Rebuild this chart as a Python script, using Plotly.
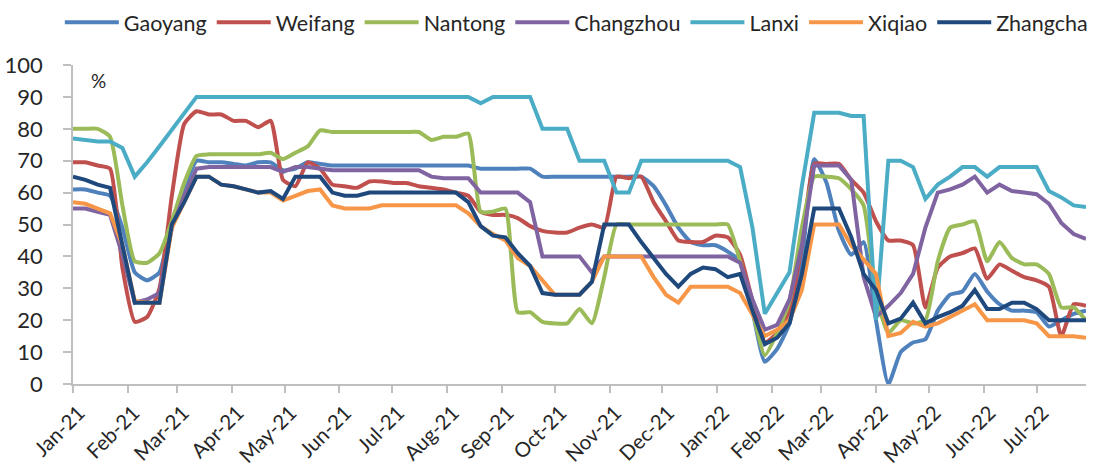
import pandas as pd
import plotly.graph_objects as go

START_DATE = "2021-01-01"   # weekly observations
N_WEEKS = 83
dates = pd.date_range(START_DATE, periods=N_WEEKS, freq="7D")

series_names = ["Gaoyang", "Weifang", "Nantong", "Changzhou", "Lanxi", "Xiqiao", "Zhangcha"]
series_colors = ["#4F81BD", "#C0504D", "#9BBB59", "#8064A2", "#4BACC6", "#F79646", "#1F497D"]

gaoyang = [61, 61, 60, 59, 49, 35, 32.5, 35, 51, 61,
           70, 69.5, 69.5, 69, 68.5, 69.5, 69.5, 67, 67.5, 69.5,
           69, 68.5, 68.5, 68.5, 68.5, 68.5, 68.5, 68.5, 68.5, 68.5,
           68.5, 68.5, 68.5, 67.5, 67.5, 67.5, 67.5, 67.5, 65, 65,
           65, 65, 65, 65, 65, 65, 65, 62, 56, 49,
           44.5, 43.5, 43.5, 41.5, 38.5, 23, 7, 11, 19, 38.5,
           70.5, 63, 48, 40.5, 44.5, 20, 0, 10, 13, 14,
           23, 28, 29, 34.5, 29, 25, 23, 23, 22.5, 18,
           20, 22, 23]
weifang = [69.5, 69.5, 68.5, 67.5, 36.5, 19.5, 21, 30, 59, 81.5,
           85.5, 84.5, 84.5, 82.5, 82.5, 80.5, 82.5, 64, 62, 69.5,
           67.5, 62.5, 62, 61.5, 63.5, 63.5, 63, 63, 62, 61.5,
           61, 60, 59, 54, 53, 53, 52, 49.5, 48, 47.5,
           47.5, 49, 50, 49, 65, 64.5, 65, 57, 51, 45,
           44.5, 44.5, 46.5, 46, 40.5, 26, 13, 16, 23, 43.5,
           69, 69, 69, 64, 60, 51, 45, 45, 43.5, 24,
           36.5, 40, 41, 42.5, 33, 37.5, 35.5, 33.5, 32.5, 30.5,
           15, 25, 24.5]
nantong = [80, 80, 80, 77.5, 56, 38.5, 38, 41, 51, 63,
           71.5, 72, 72, 72, 72, 72, 72.5, 70.5, 72.5, 74.5,
           79.5, 79, 79, 79, 79, 79, 79, 79, 79, 76.5,
           77.5, 77.5, 78.5, 54, 54, 55, 22.5, 22.5, 19.5, 19,
           19, 23.5, 19, 33.5, 50, 50, 50, 50, 50, 50,
           50, 50, 50, 50, 38.5, 23, 9, 16, 26, 49,
           65, 65, 64.5, 61, 56, 28, 16, 20, 19, 20,
           38.5, 49, 50, 51, 38.5, 44.5, 39.5, 37.5, 37.5, 34.5,
           24, 24, 20]
changzhou = [55, 55, 54, 53, 40.5, 25.5, 26.5, 28.5, 49, 59,
             67.5, 68, 68, 68, 68, 68, 68, 66.5, 68, 68,
             67.5, 67, 67, 67, 67, 67, 67, 67, 67, 65,
             64.5, 64.5, 64.5, 60, 60, 60, 60, 57, 40, 40,
             40, 40, 35, 40, 40, 40, 40, 40, 40, 40,
             40, 40, 40, 40, 38, 26.5, 17, 18.5, 26.5, 43.5,
             68.5, 68.5, 68.5, 64, 33.5, 21, 24.5, 28.5, 34.5, 49,
             60, 61, 62.5, 65, 60, 62.5, 60.5, 60, 59.5, 56.5,
             50.5, 47, 45.5]
lanxi = [77, 76.5, 76, 76, 74, 65, 69.5, 74.5, 79.5, 84.5,
         90, 90, 90, 90, 90, 90, 90, 90, 90, 90,
         90, 90, 90, 90, 90, 90, 90, 90, 90, 90,
         90, 90, 90, 88, 90, 90, 90, 90, 80, 80,
         80, 70, 70, 70, 60, 60, 70, 70, 70, 70,
         70, 70, 70, 70, 68, 49, 22, 28.5, 35, 62,
         85, 85, 85, 84, 84, 20, 70, 70, 68, 58,
         62.5, 65, 68, 68, 65, 68, 68, 68, 68, 60.5,
         58.5, 56, 55.5]
xiqiao = [57, 56.5, 55, 53.5, 43.5, 26, 25.5, 25.5, 49, 57,
          65, 65, 62.5, 62, 61, 60, 60, 57.5, 59, 60.5,
          61, 56, 55, 55, 55, 56, 56, 56, 56, 56,
          56, 56, 53.5, 49.5, 47, 45, 39.5, 37, 32.5, 28,
          28, 28, 32, 40, 40, 40, 40, 33.5, 28, 25.5,
          30.5, 30.5, 30.5, 30.5, 28.5, 22, 15, 17, 20, 29.5,
          50, 50, 50, 43.5, 39, 34.5, 15, 16, 19.5, 18,
          19, 21, 23, 25, 20, 20, 20, 20, 19, 15,
          15, 15, 14.5]
zhangcha = [65, 64, 62.5, 61.5, 43.5, 25.5, 25.5, 25.5, 50, 57,
            65, 65, 62.5, 62, 61, 60, 60.5, 58, 65, 65,
            65, 60, 59, 59, 60, 60, 60, 60, 60, 60,
            60, 60, 57, 49.5, 46.5, 46, 41, 37, 28.5, 28,
            28, 28, 32, 50, 50, 50, 44.5, 39.5, 34.5, 30.5,
            34.5, 36.5, 36, 33.5, 34.5, 23, 12.5, 14.5, 19, 34.5,
            55, 55, 55, 46, 34.5, 29.5, 19, 20.5, 25.5, 19,
            21, 22.5, 24.5, 29.5, 23.5, 23.5, 25.5, 25.5, 23.5, 20,
            20, 20, 20]

all_values = [gaoyang, weifang, nantong, changzhou, lanxi, xiqiao, zhangcha]
smoothed = {"Gaoyang", "Weifang", "Nantong"}

FONT = "Lato"
TEXT = "#262626"
AXIS = "#BFBFBF"

fig = go.Figure()
for name, color, vals in zip(series_names, series_colors, all_values):
    shape = "spline" if name in smoothed else "linear"
    fig.add_trace(go.Scatter(
        x=dates, y=vals, name=name, mode="lines",
        line=dict(color=color, width=4, shape=shape, smoothing=0.5),
    ))

fig.update_layout(
    width=1097, height=469,
    margin=dict(l=73, r=11, t=65, b=85, autoexpand=False),
    paper_bgcolor="white", plot_bgcolor="white",
    font=dict(family=FONT, size=21, color=TEXT),
    showlegend=True,
    legend=dict(orientation="h", x=-0.013, xanchor="left", y=1.134, yanchor="middle",
                font=dict(family=FONT, size=21.5, color=TEXT), itemwidth=54,
                bgcolor="rgba(0,0,0,0)", traceorder="normal", tracegroupgap=0),
    annotations=[dict(text="%", xref="paper", yref="paper", x=0.025, y=0.95,
                      showarrow=False, xanchor="center", yanchor="middle",
                      font=dict(family=FONT, size=19, color=TEXT))],
)
fig.update_xaxes(
    type="date", range=["2021-01-01", "2022-07-29"],
    tick0="2021-01-01", dtick="M1", tickformat="%b-%y", tickangle=-45,
    showline=True, linecolor=AXIS, linewidth=1.5,
    ticks="outside", ticklen=7, tickcolor=AXIS, tickwidth=1.5,
    showgrid=False, zeroline=False,
    ticklabelstandoff=0, ticklabelshift=6,
    tickfont=dict(family=FONT, size=20.5, color=TEXT),
)
fig.update_yaxes(
    range=[0, 100], dtick=10, tick0=0,
    showline=True, linecolor=AXIS, linewidth=1.5,
    ticks="outside", ticklen=8, tickcolor=AXIS, tickwidth=1.5,
    showgrid=False, zeroline=False, ticklabelstandoff=16,
    tickfont=dict(family=FONT, size=22, color=TEXT),
)

fig.write_html("out.html")
